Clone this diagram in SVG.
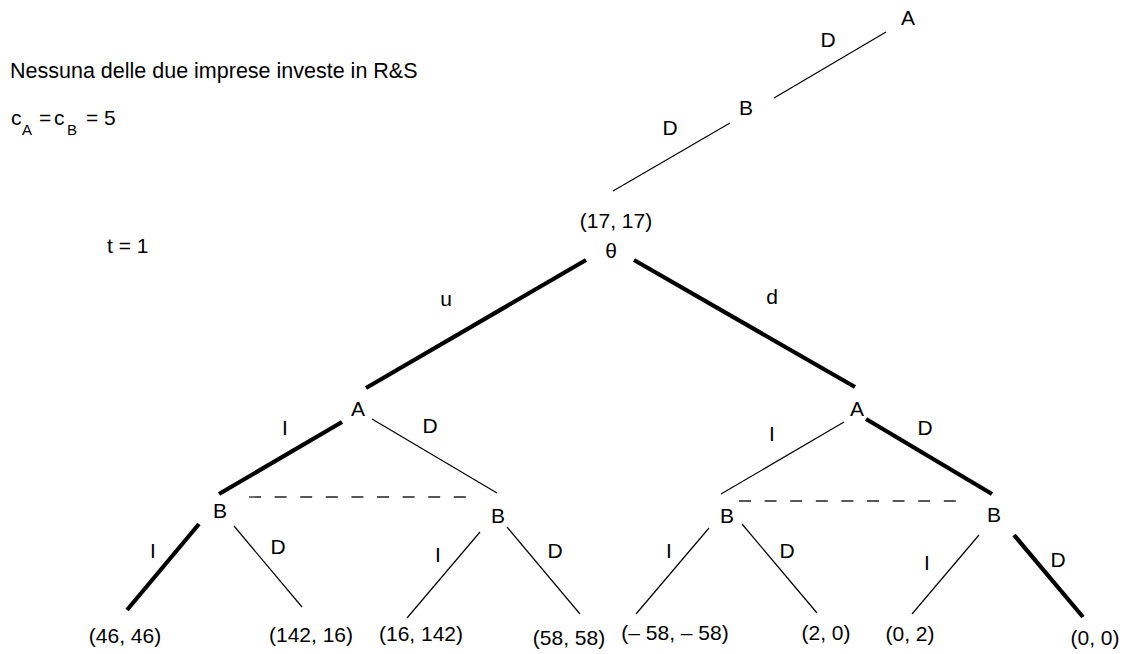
<svg xmlns="http://www.w3.org/2000/svg" width="1125" height="654" viewBox="0 0 1125 654">
<style>
text{font-family:"Liberation Sans",Arial,sans-serif;font-size:21px;fill:#000}
.c{text-anchor:middle}
.cap{font-size:21.5px}
.sub{font-size:15px}
.thin{stroke:#000;stroke-width:1.2;fill:none}
.thick{stroke:#000;stroke-width:4.2;fill:none}
.dash{stroke:#222;stroke-width:1.3;stroke-dasharray:12 13.6;fill:none}
</style>
<rect width="1125" height="654" fill="#fff"/>
<g id="caption">
<text class="cap" x="10" y="78">Nessuna delle due imprese investe in R&amp;S</text>
<text x="11" y="125">c</text><text class="sub" x="22" y="135">A</text>
<text x="39" y="125">=</text>
<text x="54" y="125">c</text><text class="sub" x="67" y="135">B</text>
<text x="86" y="125">= 5</text>
<text x="107" y="253">t = 1</text>
</g>
<g id="connectors">
<line class="thin" x1="613" y1="191" x2="730" y2="123"/>
<line class="thin" x1="774" y1="98" x2="886" y2="32"/>
<line class="thick" x1="586" y1="260" x2="366" y2="388"/>
<line class="thick" x1="634" y1="260" x2="855" y2="387"/>
<line class="thick" x1="342" y1="422" x2="219" y2="494"/>
<line class="thin" x1="372" y1="419" x2="497" y2="493"/>
<line class="dash" x1="249" y1="497" x2="470" y2="497"/>
<line class="thin" x1="844" y1="422" x2="721" y2="494"/>
<line class="thick" x1="866" y1="419" x2="992" y2="494"/>
<line class="dash" x1="739" y1="501" x2="960" y2="501"/>
<line class="thick" x1="199" y1="524" x2="127" y2="610"/>
<line class="thin" x1="234" y1="526" x2="302" y2="607"/>
<line class="thin" x1="480" y1="532" x2="407" y2="618"/>
<line class="thin" x1="507" y1="527" x2="580" y2="614"/>
<line class="thin" x1="709" y1="528" x2="636" y2="614"/>
<line class="thin" x1="742" y1="524" x2="817" y2="613"/>
<line class="thin" x1="979" y1="535" x2="912" y2="614"/>
<line class="thick" x1="1014" y1="535" x2="1083" y2="617"/>
</g>
<g id="edge-labels">
<text class="c" x="828" y="47">D</text>
<text class="c" x="670" y="135">D</text>
<text class="c" x="446" y="306">u</text>
<text class="c" x="772" y="304">d</text>
<text class="c" x="285" y="435">I</text>
<text class="c" x="430" y="433">D</text>
<text class="c" x="772" y="441">I</text>
<text class="c" x="925" y="435">D</text>
<text class="c" x="153" y="558">I</text>
<text class="c" x="278" y="554">D</text>
<text class="c" x="438" y="562">I</text>
<text class="c" x="555" y="558">D</text>
<text class="c" x="669" y="558">I</text>
<text class="c" x="787" y="558">D</text>
<text class="c" x="927" y="570">I</text>
<text class="c" x="1058" y="567">D</text>
</g>
<g id="node-topA"><text class="c" x="908" y="25">A</text></g>
<g id="node-topB"><text class="c" x="746" y="115">B</text></g>
<g id="node-theta"><text class="c" x="616" y="228">(17, 17)</text><text class="c" x="611" y="258">θ</text></g>
<g id="node-A-left"><text class="c" x="358" y="416">A</text></g>
<g id="node-A-right"><text class="c" x="857" y="416">A</text></g>
<g id="node-B1"><text class="c" x="220" y="518">B</text></g>
<g id="node-B2"><text class="c" x="498" y="523">B</text></g>
<g id="node-B3"><text class="c" x="727" y="523">B</text></g>
<g id="node-B4"><text class="c" x="994" y="522">B</text></g>
<g id="leaf1"><text class="c" x="125" y="643">(46, 46)</text></g>
<g id="leaf2"><text class="c" x="311" y="642">(142, 16)</text></g>
<g id="leaf3"><text class="c" x="421" y="641">(16, 142)</text></g>
<g id="leaf4"><text class="c" x="569" y="645">(58, 58)</text></g>
<g id="leaf5"><text class="c" x="675" y="640">(– 58, – 58)</text></g>
<g id="leaf6"><text class="c" x="826" y="640">(2, 0)</text></g>
<g id="leaf7"><text class="c" x="910" y="641">(0, 2)</text></g>
<g id="leaf8"><text class="c" x="1095" y="645">(0, 0)</text></g>
</svg>
